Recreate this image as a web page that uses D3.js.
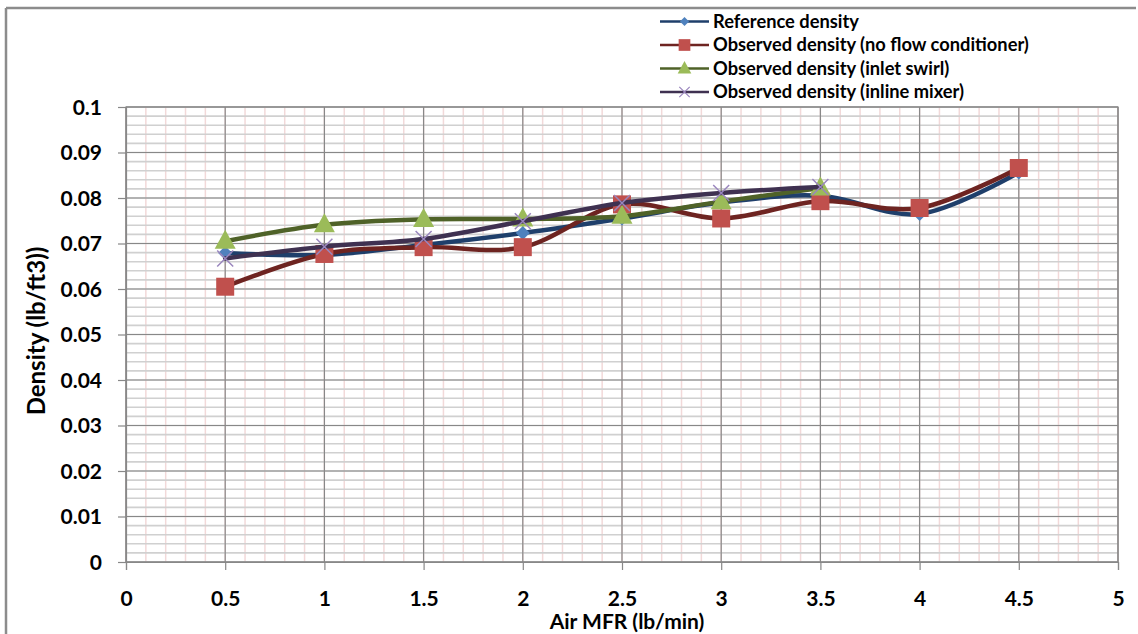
<!DOCTYPE html>
<html>
<head>
<meta charset="utf-8">
<script src="https://cdnjs.cloudflare.com/ajax/libs/d3/7.8.5/d3.min.js"></script>
<style>
  body { margin: 0; background: #fff; }
  svg text { font-family: Lato, "Open Sans", sans-serif; font-weight: bold; fill: #000; }
</style>
</head>
<body>
<svg id="chart" width="1138" height="634"></svg>
<script>
// air mass flow rate (lb/min)
var airMFR = [0.5, 1, 1.5, 2, 2.5, 3, 3.5, 4, 4.5];

// densities (lb/ft3)
var referenceDensity = [0.0679, 0.0675, 0.0697, 0.0723, 0.0755, 0.0790, 0.0805, 0.0765, 0.0856];
var noConditioner    = [0.0605, 0.0677, 0.0692, 0.0692, 0.0786, 0.0755, 0.0793, 0.0778, 0.0866];
var inletSwirl       = [0.0705, 0.0741, 0.0753, 0.0754, 0.0760, 0.0792, 0.0822];
var inlineMixer      = [0.0667, 0.0693, 0.0710, 0.0749, 0.0789, 0.0811, 0.0824];

var xTicks = [0, 0.5, 1, 1.5, 2, 2.5, 3, 3.5, 4, 4.5, 5];
var yTicks = [0, 0.01, 0.02, 0.03, 0.04, 0.05, 0.06, 0.07, 0.08, 0.09, 0.1];

var series = [
  { name: "Reference density", values: referenceDensity, line: "#1f3f6b", fill: "#4f81bd", marker: "diamond" },
  { name: "Observed density (no flow conditioner)", values: noConditioner, line: "#6e2421", fill: "#c0504d", marker: "square" },
  { name: "Observed density (inlet swirl)", values: inletSwirl, line: "#4f6228", fill: "#9bbb59", marker: "triangle" },
  { name: "Observed density (inline mixer)", values: inlineMixer, line: "#3f3151", fill: "#9a86be", marker: "cross" }
];

var svg = d3.select("#chart");
var pL = 126, pR = 1118, pT = 107, pB = 562;

var x = d3.scaleLinear().domain([0, 5]).range([pL, pR]);
var y = d3.scaleLinear().domain([0, 0.1]).range([pB, pT]);

// chart border (left and top only visible)
svg.append("line").attr("x1", 6).attr("x2", 6).attr("y1", 8).attr("y2", 634)
  .attr("stroke", "#8c8c8c").attr("stroke-width", 2.5);
svg.append("line").attr("x1", 6).attr("x2", 1136).attr("y1", 8).attr("y2", 8)
  .attr("stroke", "#8c8c8c").attr("stroke-width", 2.5);

var grid = svg.append("g");

// minor vertical gridlines (pink)
grid.selectAll(".vminor").data(d3.range(0, 51).map(function(i) { return i / 10; }))
  .enter().append("line")
  .attr("x1", function(d) { return x(d); }).attr("x2", function(d) { return x(d); })
  .attr("y1", pT).attr("y2", pB)
  .attr("stroke", "#f2d9d9").attr("stroke-width", 1.5);

// minor horizontal gridlines
grid.selectAll(".hminor").data(d3.range(0, 51).map(function(i) { return i / 500; }))
  .enter().append("line")
  .attr("x1", pL).attr("x2", pR)
  .attr("y1", function(d) { return y(d); }).attr("y2", function(d) { return y(d); })
  .attr("stroke", "#d0d0d0").attr("stroke-width", 1.6);

// major gridlines
grid.selectAll(".vmajor").data(xTicks).enter().append("line")
  .attr("x1", function(d) { return x(d); }).attr("x2", function(d) { return x(d); })
  .attr("y1", pT).attr("y2", pB)
  .attr("stroke", "#888").attr("stroke-width", 1.2);
grid.selectAll(".hmajor").data(yTicks).enter().append("line")
  .attr("x1", pL).attr("x2", pR)
  .attr("y1", function(d) { return y(d); }).attr("y2", function(d) { return y(d); })
  .attr("stroke", "#888").attr("stroke-width", 1.2);

// plot area frame
svg.append("rect").attr("x", pL).attr("y", pT).attr("width", pR - pL).attr("height", pB - pT)
  .attr("fill", "none").attr("stroke", "#888").attr("stroke-width", 1.2);

// axes
var xAxis = svg.append("g").attr("transform", "translate(0," + pB + ")")
  .call(d3.axisBottom(x).tickValues(xTicks).tickSize(8).tickPadding(21).tickFormat(d3.format("")));
var yAxis = svg.append("g").attr("transform", "translate(" + pL + ",0)")
  .call(d3.axisLeft(y).tickValues(yTicks).tickSize(8).tickPadding(16).tickFormat(d3.format("")));
[xAxis, yAxis].forEach(function(a) {
  a.select(".domain").attr("stroke", "#888").attr("stroke-width", 1.2);
  a.selectAll(".tick line").attr("stroke", "#888").attr("stroke-width", 1.2);
  a.selectAll("text").attr("font-size", 21).attr("font-family", "Lato, sans-serif")
    .attr("font-weight", "bold").attr("fill", "#000");
});
yAxis.selectAll("text").attr("dy", "0.35em");

// axis titles
svg.append("text").attr("x", 627).attr("y", 629).attr("text-anchor", "middle")
  .attr("font-size", 21).text("Air MFR (lb/min)");
svg.append("text").attr("transform", "translate(45,331) rotate(-90)").attr("text-anchor", "middle")
  .attr("font-size", 24).text("Density (lb/ft3))");

// series lines
var line = d3.line()
  .x(function(d) { return x(d[0]); })
  .y(function(d) { return y(d[1]); })
  .curve(d3.curveCatmullRom.alpha(0));

function markerPath(type, size) {
  var s = size;
  if (type === "diamond") return "M0," + (-s) + "L" + s + ",0L0," + s + "L" + (-s) + ",0Z";
  if (type === "square") return "M" + (-s) + "," + (-s) + "H" + s + "V" + s + "H" + (-s) + "Z";
  if (type === "triangle") return "M0," + (-s * 1.15) + "L" + (s * 1.05) + "," + (s * 0.75) + "L" + (-s * 1.05) + "," + (s * 0.75) + "Z";
  return "M" + (-s) + "," + (-s) + "L" + s + "," + s + "M" + s + "," + (-s) + "L" + (-s) + "," + s;
}
var markerSize = { diamond: 7, square: 9, triangle: 10, cross: 8 };

var plot = svg.append("g");
series.forEach(function(s) {
  var pts = s.values.map(function(v, i) { return [airMFR[i], v]; });
  plot.append("path").datum(pts).attr("d", line)
    .attr("fill", "none").attr("stroke", s.line).attr("stroke-width", 4.5)
    .attr("stroke-linejoin", "round").attr("stroke-linecap", "round");
  plot.selectAll(null).data(pts).enter().append("path")
    .attr("transform", function(d) { return "translate(" + x(d[0]) + "," + y(d[1]) + ")"; })
    .attr("d", markerPath(s.marker, markerSize[s.marker]))
    .attr("fill", s.marker === "cross" ? "none" : s.fill)
    .attr("stroke", s.marker === "cross" ? s.fill : "none")
    .attr("stroke-width", 1.5);
});

// legend
var legend = svg.append("g");
series.forEach(function(s, i) {
  var ly = 21.5 + i * 23.5;
  legend.append("line").attr("x1", 660).attr("x2", 709).attr("y1", ly).attr("y2", ly)
    .attr("stroke", s.line).attr("stroke-width", 2.5);
  legend.append("path").attr("transform", "translate(684.5," + ly + ")")
    .attr("d", markerPath(s.marker, markerSize[s.marker] * 0.65))
    .attr("fill", s.marker === "cross" ? "none" : s.fill)
    .attr("stroke", s.marker === "cross" ? s.fill : "none")
    .attr("stroke-width", 1.2);
  legend.append("text").attr("x", 713).attr("y", ly).attr("dy", "0.35em")
    .attr("font-size", 18.3).text(s.name);
});
</script>
</body>
</html>
